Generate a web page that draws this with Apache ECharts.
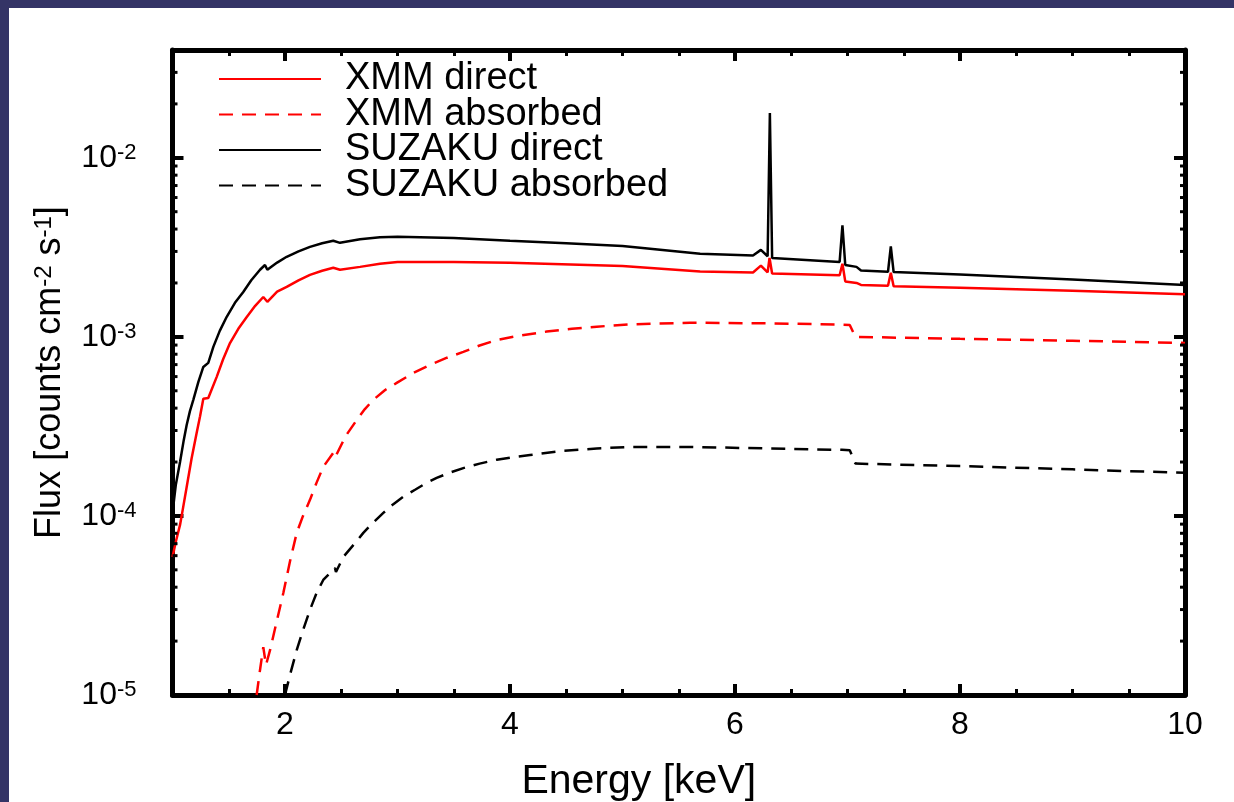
<!DOCTYPE html>
<html><head><meta charset="utf-8">
<script src="https://cdn.jsdelivr.net/npm/echarts@6/dist/echarts.min.js"></script>
<style>
html,body{margin:0;padding:0;background:#343466;width:1234px;height:802px;overflow:hidden}
#chart{position:absolute;left:9px;top:8px;width:1225px;height:794px;background:#fff}
</style></head><body><div id="chart"></div>
<script>
// ---- data (energy in keV, flux in counts cm^-2 s^-1) ----
const xmmDirectEnergy = [1.00,1.03,1.067,1.095,1.126,1.17,1.215,1.245,1.274,1.318,1.393,1.45,1.511,1.585,1.660,1.735,1.807,1.822,1.843,1.93,2.015,2.12,2.222,2.33,2.429,2.489,2.667,2.844,3.0,3.5,4.0,5.0,5.69,6.16,6.23,6.29,6.307,6.33,6.93,6.955,6.98,7.08,7.12,7.36,7.385,7.41,8.0,9.0,10.0];
const xmmDirectFlux = [5.9e-5,7.2e-5,8.91e-5,1.12e-4,1.45e-4,2.1e-4,2.91e-4,3.6e-4,4.51e-4,4.56e-4,5.98e-4,7.5e-4,9.24e-4,1.11e-3,1.29e-3,1.49e-3,1.67e-3,1.69e-3,1.57e-3,1.79e-3,1.90e-3,2.07e-3,2.22e-3,2.34e-3,2.43e-3,2.37e-3,2.46e-3,2.56e-3,2.62e-3,2.62e-3,2.59e-3,2.49e-3,2.32e-3,2.29e-3,2.50e-3,2.29e-3,2.76e-3,2.26e-3,2.21e-3,2.56e-3,2.04e-3,2.00e-3,1.95e-3,1.93e-3,2.28e-3,1.92e-3,1.88e-3,1.81e-3,1.73e-3];

const xmmAbsorbedEnergy = [1.748,1.778,1.807,1.831,1.867,1.985,2.045,2.104,2.16,2.222,2.28,2.340,2.429,2.445,2.54,2.637,2.71,2.785,2.89,2.993,3.140,3.289,3.44,3.585,3.73,3.882,4.1,4.326,4.55,4.771,5.067,5.6,6.3,6.95,7.02,7.07,8.0,9.0,10.0];
const xmmAbsorbedFlux = [1.0e-5,1.38e-5,1.85e-5,1.47e-5,1.78e-5,3.71e-5,5.6e-5,8.04e-5,1.0e-4,1.23e-4,1.53e-4,1.88e-4,2.25e-4,2.12e-4,2.8e-4,3.43e-4,3.95e-4,4.45e-4,5.05e-4,5.53e-4,6.29e-4,6.98e-4,7.65e-4,8.24e-4,8.95e-4,9.61e-4,1.02e-3,1.07e-3,1.11e-3,1.14e-3,1.175e-3,1.20e-3,1.19e-3,1.17e-3,1.165e-3,1.0e-3,9.75e-4,9.51e-4,9.25e-4];

const suzakuDirectEnergy = [1.00,1.03,1.067,1.10,1.126,1.155,1.185,1.23,1.274,1.284,1.318,1.363,1.42,1.482,1.555,1.629,1.70,1.778,1.822,1.843,1.93,2.015,2.12,2.222,2.33,2.429,2.489,2.667,2.844,3.0,3.5,4.0,4.5,5.0,5.69,6.16,6.23,6.29,6.31,6.33,6.93,6.955,6.98,7.08,7.12,7.36,7.385,7.41,8.0,9.0,10.0];
const suzakuDirectFlux = [1.04e-4,1.5e-4,2.0e-4,2.65e-4,3.22e-4,3.85e-4,4.45e-4,5.6e-4,6.79e-4,6.85e-4,7.16e-4,8.79e-4,1.08e-3,1.295e-3,1.55e-3,1.78e-3,2.07e-3,2.37e-3,2.52e-3,2.37e-3,2.6e-3,2.80e-3,3.0e-3,3.18e-3,3.33e-3,3.44e-3,3.35e-3,3.51e-3,3.60e-3,3.62e-3,3.57e-3,3.44e-3,3.33e-3,3.22e-3,2.91e-3,2.85e-3,3.06e-3,2.82e-3,1.78e-2,2.76e-3,2.62e-3,4.2e-3,2.52e-3,2.46e-3,2.35e-3,2.31e-3,3.2e-3,2.30e-3,2.23e-3,2.09e-3,1.95e-3];

const suzakuAbsorbedEnergy = [2.0,2.044,2.104,2.16,2.222,2.28,2.340,2.444,2.453,2.518,2.61,2.696,2.785,2.874,2.96,3.052,3.156,3.25,3.348,3.46,3.585,3.73,3.882,4.03,4.178,4.474,4.771,5.067,5.6,6.3,6.95,7.02,7.07,8.0,9.0,10.0];
const suzakuAbsorbedFlux = [1.0e-5,1.29e-5,1.78e-5,2.3e-5,2.99e-5,3.7e-5,4.39e-5,5.12e-5,4.86e-5,5.90e-5,6.9e-5,8.04e-5,9.2e-5,1.04e-4,1.16e-4,1.28e-4,1.40e-4,1.52e-4,1.63e-4,1.74e-4,1.85e-4,1.96e-4,2.06e-4,2.13e-4,2.19e-4,2.31e-4,2.38e-4,2.43e-4,2.43e-4,2.38e-4,2.34e-4,2.33e-4,1.96e-4,1.90e-4,1.82e-4,1.74e-4];

const seriesNames = ['XMM direct','XMM absorbed','SUZAKU direct','SUZAKU absorbed'];
const xMajorTicks = [2,4,6,8,10];
const xLabels = [2,4,6,8,10];
const yMinorTicks = [2e-5,3e-5,4e-5,5e-5,6e-5,7e-5,8e-5,9e-5,2e-4,3e-4,4e-4,5e-4,6e-4,7e-4,8e-4,9e-4,2e-3,3e-3,4e-3,5e-3,6e-3,7e-3,8e-3,9e-3,2e-2,3e-2];
const xMin = 1, xMax = 10, yMin = 1e-5, yMax = 0.04;

// ---- chart ----
const FONT = 'Liberation Sans, Arial, Helvetica, sans-serif';
const FS = 32;      // tick labels
const FT = 36;      // y title
const FL = 38;      // legend
const FX = 41;      // x title
const zip = (a, b) => a.map((v, i) => [v, b[i]]);
const chart = echarts.init(document.getElementById('chart'), null, {renderer: 'canvas'});
const frame = {show: true, lineStyle: {color: '#000', width: 5}};
const majorTick = {show: true, inside: true, length: 11, lineStyle: {color: '#000', width: 4}};
const minorTick = {show: true, inside: true, length: 6, lineStyle: {color: '#000', width: 3}};
const expFmt = v => {
  const e = Math.round(Math.log10(v));
  if (Math.abs(Math.log10(v) - e) > 1e-6) return '';
  return '{b|10}{s|' + e + '}';
};
const lineSeries = (name, e, f, color, dashed) => ({
  name, type: 'line', data: zip(e, f), symbol: 'none', showSymbol: false,
  xAxisIndex: 0, yAxisIndex: 0, z: 3,
  lineStyle: {color, width: 2.5, type: dashed ? [14, 9] : 'solid'},
  itemStyle: {color}
});

chart.setOption({
  animation: false,
  backgroundColor: '#fff',
  textStyle: {fontFamily: FONT},
  grid: {left: 163.5, right: 49, top: 42, bottom: 107, containLabel: false, outerBoundsMode: 'none'},
  legend: {
    orient: 'vertical', left: 209, top: 52, padding: 0, itemWidth: 102, itemHeight: 20, itemGap: -2.5,
    data: seriesNames,
    itemStyle: {opacity: 0},
    textStyle: {fontSize: FL, color: '#000', fontFamily: FONT, lineHeight: 35, padding: [0, 0, 0, 19]}
  },
  xAxis: [
    {type: 'value', min: xMin, max: xMax, position: 'bottom',
     axisLine: frame, axisTick: Object.assign({customValues: xMajorTicks}, majorTick),
     axisLabel: {customValues: xLabels, fontSize: FS, color: '#000', margin: 14, fontFamily: FONT},
     splitLine: {show: false},
     name: 'Energy [keV]', nameLocation: 'middle', nameGap: 66,
     nameTextStyle: {fontSize: FX, color: '#000', fontFamily: FONT, padding: [0, 80, 0, 0]}},
    {type: 'value', min: xMin, max: xMax, interval: 0.5, position: 'bottom',
     axisLine: {show: false}, axisTick: minorTick, axisLabel: {show: false}, splitLine: {show: false}},
    {type: 'value', min: xMin, max: xMax, position: 'top',
     axisLine: frame, axisTick: Object.assign({customValues: xMajorTicks}, majorTick),
     axisLabel: {show: false}, splitLine: {show: false}},
    {type: 'value', min: xMin, max: xMax, interval: 0.5, position: 'top',
     axisLine: {show: false}, axisTick: minorTick, axisLabel: {show: false}, splitLine: {show: false}}
  ],
  yAxis: [
    {type: 'log', logBase: 10, min: yMin, max: yMax, position: 'left',
     axisLine: frame, axisTick: majorTick, splitLine: {show: false}, minorTick: {show: false},
     axisLabel: {formatter: expFmt, margin: 36, showMaxLabel: false,
       rich: {b: {fontSize: FS, color: '#000', fontFamily: FONT},
              s: {fontSize: 22, color: '#000', fontFamily: FONT, verticalAlign: 'top'}}},
     name: 'Flux [counts cm{s|-2} s{s|-1}]', nameLocation: 'middle', nameGap: 104,
     nameTextStyle: {fontSize: FT, color: '#000', fontFamily: FONT,
       rich: {s: {fontSize: 24, color: '#000', fontFamily: FONT, verticalAlign: 'top'}}}},
    {type: 'log', logBase: 10, min: yMin, max: yMax, position: 'right',
     axisLine: frame, axisTick: majorTick, axisLabel: {show: false}, splitLine: {show: false}}
  ],
  series: [
    lineSeries(seriesNames[0], xmmDirectEnergy, xmmDirectFlux, '#ff0000', false),
    lineSeries(seriesNames[1], xmmAbsorbedEnergy, xmmAbsorbedFlux, '#ff0000', true),
    lineSeries(seriesNames[2], suzakuDirectEnergy, suzakuDirectFlux, '#000000', false),
    lineSeries(seriesNames[3], suzakuAbsorbedEnergy, suzakuAbsorbedFlux, '#000000', true),
    {type: 'custom', name: 'minorTicks', xAxisIndex: 0, yAxisIndex: 0, silent: true, clip: false, z: 4,
     data: yMinorTicks.map(v => [xMin, v]),
     renderItem: (params, api) => {
       const v = api.value(1);
       const pl = api.coord([xMin, v]);
       const pr = api.coord([xMax, v]);
       const st = {stroke: '#000', lineWidth: 3};
       return {type: 'group', children: [
         {type: 'line', shape: {x1: pl[0], y1: pl[1], x2: pl[0] + 5, y2: pl[1]}, style: st},
         {type: 'line', shape: {x1: pr[0], y1: pr[1], x2: pr[0] - 5, y2: pr[1]}, style: st}
       ]};
     }}
  ]
});
</script></body></html>
